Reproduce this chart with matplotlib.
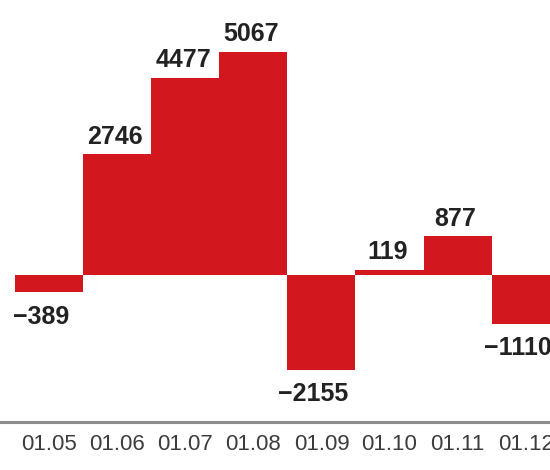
import matplotlib
matplotlib.use("Agg")
import matplotlib.pyplot as plt

months = ["01.05", "01.06", "01.07", "01.08", "01.09", "01.10", "01.11", "01.12"]
values = [-389, 2746, 4477, 5067, -2155, 119, 877, -1110]

RED = "#d2171f"
FONT = ["Liberation Sans", "DejaVu Sans"]

fig = plt.figure(figsize=(5.5, 4.7), dpi=100)
ax = fig.add_axes([0, 48 / 470, 1, 422 / 470])

x = list(range(len(values)))
ax.bar(x, values, width=1.0, color=RED, linewidth=0)

# value labels above positive bars, below negative ones
for xi, v in zip(x, values):
    if v >= 0:
        ax.annotate(str(v), (xi, v), xytext=(-1.5, 4), textcoords="offset points",
                    ha="center", va="bottom", fontsize=18, fontweight="bold",
                    color="#222222", family=FONT)
    else:
        ax.annotate("\u2212" + str(-v), (xi, v), xytext=(-6, -9), textcoords="offset points",
                    ha="center", va="top", fontsize=18, fontweight="bold",
                    color="#222222", family=FONT)

ax.set_xlim(-0.72, 7.356)
ax.set_ylim(-3340, 6248)

for s in ["top", "left", "right"]:
    ax.spines[s].set_visible(False)
ax.spines["bottom"].set_color("#8c8c8c")
ax.spines["bottom"].set_linewidth(2.2)
ax.spines["bottom"].set_bounds(-0.76, 7.356)

ax.set_yticks([])
ax.set_xticks(x)
ax.set_xticklabels(months, family=FONT, fontsize=16, color="#3c3c3c")
ax.tick_params(axis="x", length=0, pad=9)

fig.savefig("out.png", dpi=100)
